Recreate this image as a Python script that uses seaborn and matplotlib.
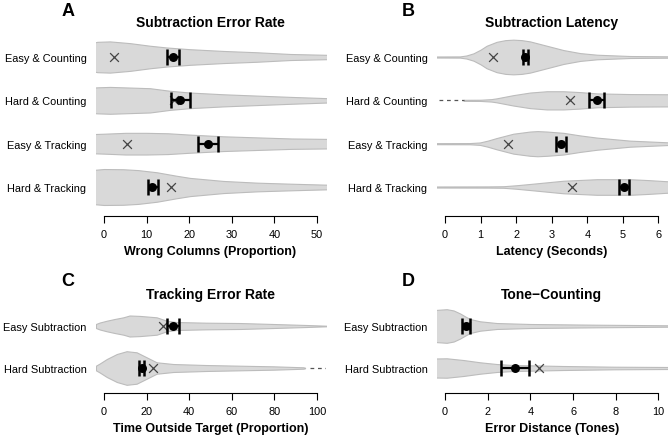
import numpy as np
import matplotlib
matplotlib.use("Agg")
import matplotlib.pyplot as plt
import seaborn as sns

# ---------------- data ----------------
# Panel A: Subtraction Error Rate
a_labels = ["Easy & Counting", "Hard & Counting", "Easy & Tracking", "Hard & Tracking"]
a_mean = [16.3, 17.8, 24.3, 11.3]
a_lo = [14.9, 15.7, 22.0, 10.4]
a_hi = [17.7, 20.2, 26.8, 12.6]
a_median = [2.35, 16.4, 5.3, 15.8]
a_ticks = [0, 10, 20, 30, 40, 50]
# violin outlines: value grid and half-width (in category units)
a_v0 = [-3, -1.6, 1.4, 6.1, 10.8, 14.7, 20.2, 28, 35.8, 43.7, 52.5]
a_w0 = [0.32, 0.35, 0.36, 0.32, 0.26, 0.22, 0.18, 0.14, 0.11, 0.07, 0.05]
a_v1 = [-3, -1.6, 1.4, 10.8, 15.5, 20.2, 28, 35.8, 43.7, 52.5]
a_w1 = [0.29, 0.30, 0.31, 0.28, 0.22, 0.18, 0.14, 0.11, 0.08, 0.05]
a_v2 = [-3, 0, 5, 10, 15, 20, 28, 36, 44, 52.5]
a_w2 = [0.22, 0.23, 0.25, 0.25, 0.24, 0.21, 0.17, 0.145, 0.12, 0.11]
a_v3 = [-3, 0, 4.5, 8, 12.4, 17, 20.2, 28, 36, 44, 52.5]
a_w3 = [0.39, 0.415, 0.41, 0.39, 0.34, 0.26, 0.21, 0.14, 0.10, 0.076, 0.053]

# Panel B: Subtraction Latency
b_labels = a_labels
b_mean = [2.25, 4.27, 3.25, 5.02]
b_lo = [2.19, 4.05, 3.11, 4.88]
b_hi = [2.32, 4.48, 3.39, 5.18]
b_median = [1.36, 3.5, 1.76, 3.58]
b_ticks = [0, 1, 2, 3, 4, 5, 6]
b_v0 = [-0.3, 0.42, 0.6, 0.8, 1.0, 1.17, 1.45, 1.7, 1.92, 2.15, 2.39, 2.86, 3.33, 3.8, 4.27, 5.2, 6.3]
b_w0 = [0.012, 0.014, 0.035, 0.085, 0.17, 0.26, 0.35, 0.39, 0.40, 0.39, 0.36, 0.26, 0.16, 0.09, 0.053, 0.023, 0.016]
b_v1 = [0.52, 1.0, 1.3, 1.45, 1.92, 2.39, 2.86, 3.33, 3.8, 4.27, 5.2, 6.3]
b_w1 = [0.012, 0.014, 0.028, 0.046, 0.12, 0.18, 0.21, 0.21, 0.19, 0.16, 0.145, 0.14]
b_v2 = [-0.3, 0.7, 0.98, 1.2, 1.45, 1.92, 2.39, 2.6, 2.86, 3.33, 3.8, 4.27, 5.2, 6.3]
b_w2 = [0.012, 0.014, 0.028, 0.07, 0.13, 0.23, 0.28, 0.29, 0.28, 0.25, 0.19, 0.14, 0.07, 0.03]
b_v3 = [-0.3, 1.2, 1.64, 2.0, 2.39, 3.33, 4.27, 5.2, 5.7, 6.3]
b_w3 = [0.012, 0.014, 0.018, 0.04, 0.07, 0.145, 0.18, 0.18, 0.16, 0.13]
b_tail1 = [-0.6, 0.52]   # dashed out-of-range segment, Hard & Counting

# Panel C: Tracking Error Rate
c_labels = ["Easy Subtraction", "Hard Subtraction"]
c_mean = [32.2, 17.7]
c_lo = [29.4, 16.6]
c_hi = [35.1, 18.9]
c_median = [27.9, 22.8]
c_ticks = [0, 20, 40, 60, 80, 100]
c_v0 = [-3.8, -2, 1.3, 5, 9.1, 12, 16.9, 24.7, 29.4, 34, 48, 63.8, 79.5, 95, 104.5]
c_w0 = [0.048, 0.083, 0.126, 0.167, 0.207, 0.25, 0.24, 0.207, 0.126, 0.095, 0.079, 0.071, 0.048, 0.024, 0.007]
c_v1 = [-3.8, -2, 1.3, 6, 10.6, 15.3, 20, 24.7, 32.5, 48, 63.8, 79.5, 93.6, 94.4]
c_w1 = [0.055, 0.107, 0.214, 0.333, 0.40, 0.374, 0.255, 0.136, 0.095, 0.071, 0.055, 0.04, 0.017, 0.007]
c_tail1 = [96.7, 106]   # dashed out-of-range segment, Hard Subtraction

# Panel D: Tone-Counting
d_labels = c_labels
d_mean = [0.98, 3.28]
d_lo = [0.8, 2.63]
d_hi = [1.19, 3.94]
d_median = [1.0, 4.42]
d_ticks = [0, 2, 4, 6, 8, 10]
d_v0 = [-0.5, 0.08, 0.4, 0.7, 0.95, 1.17, 1.64, 2.42, 3.98, 7.1, 10.5]
d_w0 = [0.38, 0.40, 0.37, 0.30, 0.226, 0.167, 0.112, 0.071, 0.048, 0.031, 0.017]
d_v1 = [-0.5, 0.08, 0.86, 1.64, 2.42, 3.2, 3.98, 5.5, 7.9, 10.5]
d_w1 = [0.226, 0.231, 0.19, 0.136, 0.095, 0.071, 0.064, 0.048, 0.031, 0.024]

# ---------------- style ----------------
sns.set_theme(style="white")
plt.rcParams["font.family"] = ["Liberation Sans", "DejaVu Sans"]
plt.rcParams["text.color"] = "black"
plt.rcParams["axes.labelcolor"] = "black"
plt.rcParams["xtick.color"] = "black"
plt.rcParams["ytick.color"] = "black"

W, H = 670, 439
fig = plt.figure(figsize=(W / 100, H / 100), dpi=100)

FILL = "#d9d9d9"
EDGE = "#bcbcbc"
TICK_FS = 7.9


def px_axes(left, right, top, bottom):
    return fig.add_axes([left / W, 1 - bottom / H, (right - left) / W, (bottom - top) / H])


def panel(ax, labels, outlines, mean, lo, hi, median, ticks, xlim, ylim,
          title, xlabel, letter, letter_xy, title_y, tails=()):
    pos = list(range(len(labels)))
    for p, (v, w) in zip(pos, outlines):
        v = np.asarray(v, float)
        w = np.asarray(w, float)
        ax.fill_between(v, p - w, p + w, facecolor=FILL, edgecolor=EDGE,
                        linewidth=0.8, zorder=1)
    for p, seg in tails:
        ax.plot(seg, [p, p], color="#555555", lw=0.9, ls=(0, (3, 3)), zorder=1)
    sns.scatterplot(x=median, y=pos, ax=ax, marker="x", color="#444444",
                    s=40, linewidth=0.9, zorder=3, legend=False)
    ax.errorbar(mean, pos, xerr=[np.subtract(mean, lo), np.subtract(hi, mean)],
                fmt="none", ecolor="black", elinewidth=1.6, capsize=6,
                capthick=1.8, zorder=4)
    sns.scatterplot(x=mean, y=pos, ax=ax, color="black", s=42,
                    edgecolor="black", linewidth=0, zorder=5, legend=False)
    ax.set_xlim(*xlim)
    ax.set_ylim(*ylim)
    ax.set_yticks(pos)
    ax.set_yticklabels(labels, fontsize=TICK_FS, color="black")
    ax.set_xticks(ticks)
    ax.set_xticklabels([str(t) for t in ticks], fontsize=TICK_FS, color="black")
    ax.tick_params(axis="y", length=0, pad=6.5)
    ax.tick_params(axis="x", direction="out", length=5, width=0.8,
                   color="black", pad=4.5, bottom=True)
    for s in ["left", "right", "top"]:
        ax.spines[s].set_visible(False)
    ax.spines["bottom"].set_bounds(ticks[0], ticks[-1])
    ax.spines["bottom"].set_color("black")
    ax.spines["bottom"].set_linewidth(0.8)
    ax.set_xlabel(xlabel, fontsize=9, fontweight="bold", labelpad=4, color="black")
    ax.set_ylabel("")
    bb = ax.get_position()
    fig.text(bb.x0 + bb.width / 2, 1 - title_y / H, title, ha="center",
             va="center", fontsize=10, fontweight="bold", color="black")
    fig.text(letter_xy[0] / W, 1 - letter_xy[1] / H, letter, ha="center",
             va="center", fontsize=13, fontweight="bold", color="black")


axA = px_axes(95.5, 325.5, 36, 217)
axB = px_axes(436.5, 667, 36, 217)
axC = px_axes(95.5, 325.5, 305, 394)
axD = px_axes(436.5, 667, 305, 394)

ylim4 = (3.669, -0.508)
ylim2 = (1.595, -0.524)

panel(axA, a_labels, [(a_v0, a_w0), (a_v1, a_w1), (a_v2, a_w2), (a_v3, a_w3)],
      a_mean, a_lo, a_hi, a_median, a_ticks, (-2, 52), ylim4,
      "Subtraction Error Rate", "Wrong Columns (Proportion)", "A", (68, 11), 23)
panel(axB, b_labels, [(b_v0, b_w0), (b_v1, b_w1), (b_v2, b_w2), (b_v3, b_w3)],
      b_mean, b_lo, b_hi, b_median, b_ticks, (-0.24, 6.24), ylim4,
      "Subtraction Latency", "Latency (Seconds)", "B", (408, 11), 23,
      tails=[(1, b_tail1)])
panel(axC, c_labels, [(c_v0, c_w0), (c_v1, c_w1)],
      c_mean, c_lo, c_hi, c_median, c_ticks, (-4, 104), ylim2,
      "Tracking Error Rate", "Time Outside Target (Proportion)", "C", (68, 281), 295,
      tails=[(1, c_tail1)])
panel(axD, d_labels, [(d_v0, d_w0), (d_v1, d_w1)],
      d_mean, d_lo, d_hi, d_median, d_ticks, (-0.4, 10.4), ylim2,
      "Tone\u2212Counting", "Error Distance (Tones)", "D", (408, 281), 295)

fig.savefig("out.png", dpi=100)
